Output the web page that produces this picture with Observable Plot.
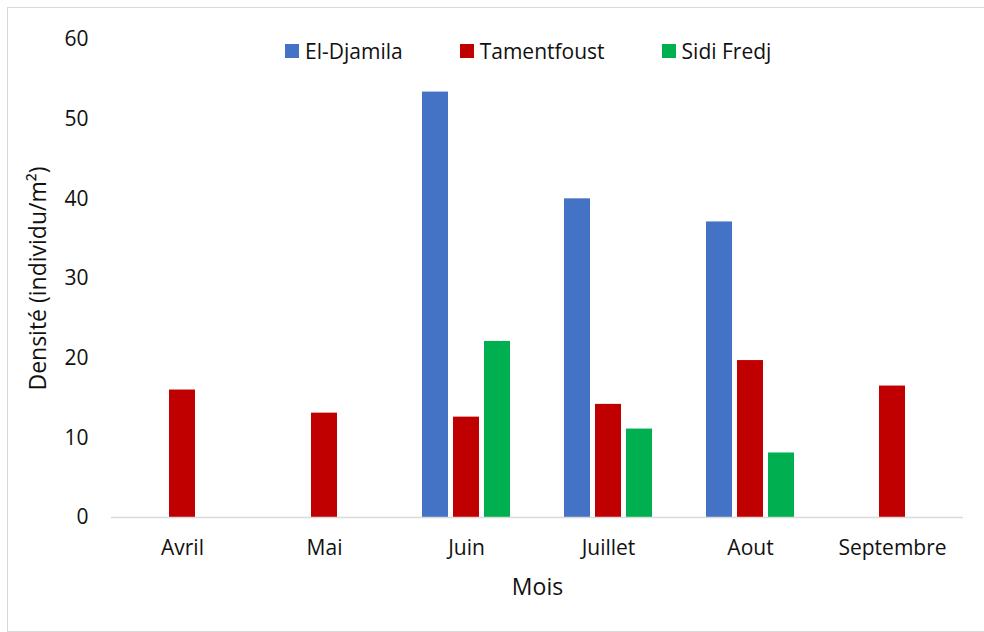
<!DOCTYPE html>
<html>
<head>
<meta charset="utf-8">
<script src="https://cdn.jsdelivr.net/npm/d3@7"></script>
<script src="https://cdn.jsdelivr.net/npm/@observablehq/plot@0.6"></script>
<style>
  html, body { margin: 0; padding: 0; background: #fff; }
  #wrap { position: relative; width: 984px; height: 632px; overflow: hidden; font-family: 'Open Sans', sans-serif; }
  #frame { position: absolute; left: 7px; top: 7px; width: 1000px; height: 623px; border: 1px solid #d9d9d9; pointer-events: none; }
  #chart { position: absolute; left: 0; top: 0; }
  #legend { position: absolute; left: 285px; top: 37px; display: flex; align-items: center; font-size: 21px; color: #111; }
  .item { display: flex; align-items: center; margin-right: 57px; }
  .sw { width: 14px; height: 14px; margin-right: 6px; }
</style>
</head>
<body>
<div id="wrap">
  <div id="chart"></div>
  <div id="frame"></div>
  <div id="legend"></div>
</div>
<script>
const months = ["Avril", "Mai", "Juin", "Juillet", "Aout", "Septembre"];
const series = ["El-Djamila", "Tamentfoust", "Sidi Fredj"];
const colors = ["#4472C4", "#C00000", "#00B050"];
const elDjamila = [null, null, 53.4, 40.0, 37.1, null];
const tamentfoust = [16.0, 13.1, 12.6, 14.2, 19.7, 16.5];
const sidiFredj = [null, null, 22.1, 11.1, 8.1, null];
const yTicks = [0, 10, 20, 30, 40, 50, 60];

const valuesBySeries = [elDjamila, tamentfoust, sidiFredj];
const rows = [];
months.forEach((m, i) => {
  series.forEach((s, j) => {
    const v = valuesBySeries[j][i];
    if (v != null) rows.push({month: m, series: s, value: v});
  });
});

const chart = Plot.plot({
  width: 984,
  height: 632,
  marginLeft: 109,
  marginRight: 19,
  marginTop: 39,
  marginBottom: 115,
  style: {fontFamily: "'Open Sans', sans-serif", fontSize: "21px", color: "#111", background: "transparent"},
  fx: {domain: months, padding: 0},
  x: {domain: series, paddingInner: 0.16, paddingOuter: 0.8, axis: null},
  y: {domain: [0, 60]},
  color: {domain: series, range: colors},
  marks: [
    Plot.axisY({ticks: yTicks, tickSize: 0, tickPadding: 23, label: null}),
    Plot.axisY({ticks: [], label: "Densité (individu/m²)", labelAnchor: "center", labelArrow: "none", labelOffset: 82, fontSize: 23}),
    Plot.axisFx({anchor: "bottom", tickSize: 0, tickPadding: 23, label: null}),
    Plot.axisFx({anchor: "bottom", ticks: [], label: "Mois", labelAnchor: "center", labelArrow: "none", labelOffset: 77, fontSize: 23}),
    Plot.barY(rows, {fx: "month", x: "series", y: "value", fill: "series"}),
    Plot.ruleY([0], {stroke: "#d9d9d9", strokeWidth: 1.5})
  ]
});
document.getElementById("chart").appendChild(chart);

const legend = document.getElementById("legend");
series.forEach((s, i) => {
  const item = document.createElement("div");
  item.className = "item";
  const sw = document.createElement("div");
  sw.className = "sw";
  sw.style.background = colors[i];
  const t = document.createElement("span");
  t.textContent = s;
  item.appendChild(sw);
  item.appendChild(t);
  legend.appendChild(item);
});
</script>
</body>
</html>
